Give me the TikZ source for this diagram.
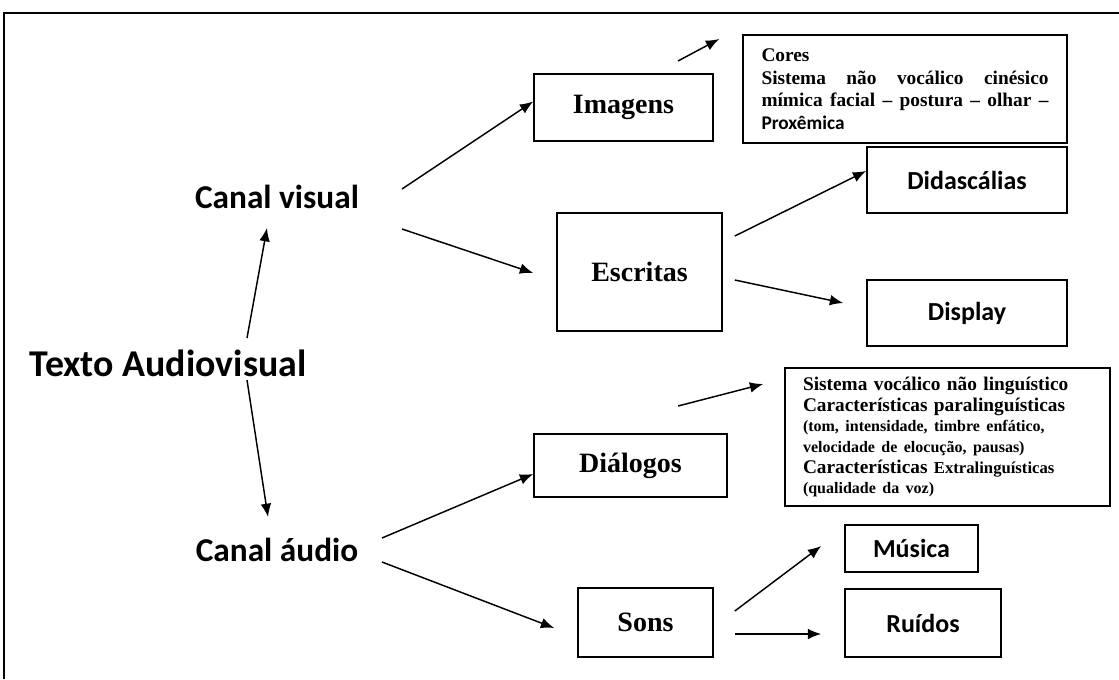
\documentclass[tikz,border=0pt]{standalone}
\usepackage{fontspec}
\setmainfont{Liberation Serif}
\newfontfamily\calfont{Carlito}
\usetikzlibrary{arrows.meta,calc}

\begin{document}
\begin{tikzpicture}[x=0.75pt, y=-0.75pt,
                    box node/.style={draw,line width=1.2pt,inner sep=0pt,font=\bfseries\fontsize{21}{24}\selectfont},
                    side node/.style={draw,line width=1.2pt,inner sep=0pt,font=\calfont\bfseries\fontsize{19.5}{22}\selectfont},
                    canal node/.style={inner sep=0pt,font=\calfont\bfseries\fontsize{25}{28}\selectfont},
                    info node/.style={draw,line width=1.2pt,inner ysep=0pt,font=\bfseries\fontsize{14.5}{17}\selectfont}]

  \useasboundingbox (0,0) rectangle (1119,679);
  \draw[line width=1.2pt] (4,679) -- (4,13) -- (1119,13);

  \node[canal node,font=\calfont\bfseries\fontsize{28.4}{32}\selectfont] (texto) at (168,363) {Texto Audiovisual};
  \node[canal node] (visual) at (277,197) {Canal visual};
  \node[canal node] (audio) at (277,550) {Canal áudio};

  \node[box node,minimum width=134.25pt,minimum height=50.25pt] (imagens) at (623.5,107.5) {Imagens};
  \node[box node,minimum width=123.75pt,minimum height=88.5pt] (escritas) at (639.5,272) {Escritas};
  \node[box node,minimum width=144.75pt,minimum height=47.25pt] (dialogos) at (630.5,465.5) {Diálogos};
  \node[box node,minimum width=101.25pt,minimum height=51.75pt] (sons) at (645.5,622.5) {Sons};

  \node[side node,minimum width=150pt,minimum height=49.5pt] (didascalias) at (967,180) {Didascálias};
  \node[side node,minimum width=150pt,minimum height=49.5pt] (display) at (967,313) {Display};
  \node[side node,minimum width=99.75pt,minimum height=35.25pt] (musica) at (911.5,548.5) {Música};
  \node[side node,minimum width=117pt,minimum height=51pt] (ruidos) at (923,623) {Ruídos};

  \node[info node,minimum width=243pt,minimum height=81pt,text width=215.25pt,inner xsep=13.9pt,align=justify] (cores) at (905,89)
    {Cores\\ Sistema não vocálico cinésico\linebreak mímica facial -- postura -- olhar --\linebreak {\calfont Proxêmica}};
  \node[info node,minimum width=243.75pt,minimum height=103.5pt,text width=216.75pt,inner xsep=13.5pt,align=left,
        font=\bfseries\fontsize{14.5}{15.5}\selectfont] (sistema) at (947.5,437)
    {Sistema vocálico não linguístico\\
     Características paralinguísticas\\
     {\fontsize{12}{15.5}\selectfont (tom, intensidade, timbre enfático,}\\
     {\fontsize{12}{15.5}\selectfont velocidade de elocução, pausas)}\\
     Características {\fontsize{12.5}{15.5}\selectfont Extralinguísticas}\\
     {\fontsize{12}{15.5}\selectfont (qualidade da voz)}};

\path[every edge/.append style={line width=1.1pt,-{Latex[length=10pt,width=8pt]}}]
    ($(texto)+(79,-25)$) edge ($(visual)+(-10,31)$)
    ($(texto)+(79,17)$) edge ($(audio)+(-9,-33)$)
    ($(visual)+(125,-8)$) edge ($(imagens.west)+(0,-6)$)
    ($(visual)+(125,32)$) edge ($(escritas.west)+(-23,1)$)
    ($(imagens)+(54.5,-46.5)$) edge ($(cores.west)+(-23,-50)$)
    ($(escritas.east)+(12,-36)$) edge ($(didascalias.west)+(0,-9)$)
    ($(escritas.east)+(12,8)$) edge ($(display.west)+(-23,-10)$)
    ($(dialogos)+(47.5,-59.5)$) edge ($(sistema.west)+(-21,-53)$)
    ($(audio)+(105,-12)$) edge ($(dialogos.west)+(0,8.5)$)
    ($(audio)+(105,12)$) edge ($(sons.west)+(-23,5.5)$)
    ($(sons.east)+(21,-11.5)$) edge ($(musica.west)+(-23,-2.5)$)
    ($(sons.east)+(21,11.5)$) edge ($(ruidos.west)+(-23,11)$)
  ;

\end{tikzpicture}
\end{document}
